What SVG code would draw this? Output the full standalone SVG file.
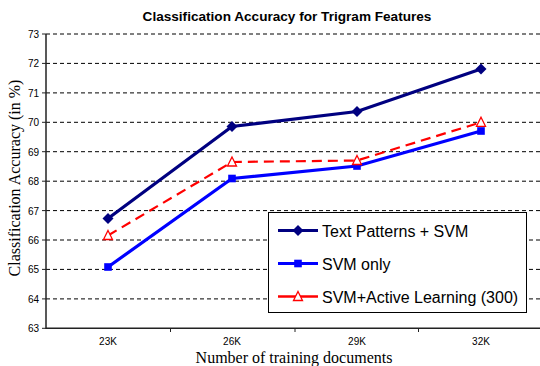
<svg xmlns="http://www.w3.org/2000/svg" width="540" height="366" viewBox="0 0 540 366">
<style>
.grid{stroke:#000;stroke-width:1;stroke-dasharray:4,3;fill:none}
.tick{font-family:"Liberation Sans",Arial,sans-serif;font-size:10px;fill:#000}
.title{font-family:"Liberation Sans",Arial,sans-serif;font-size:13.6px;font-weight:bold;fill:#000}
.axlab{font-family:"Liberation Serif","Times New Roman",serif;font-size:16px;fill:#000}
.leg{font-family:"Liberation Sans",Arial,sans-serif;font-size:16px;fill:#000}
.s1{stroke:#000080;stroke-width:3.2;fill:none}
.s2{stroke:#0000ff;stroke-width:3.2;fill:none}
.s3{stroke:#ff0000;stroke-width:2.2;stroke-dasharray:10,6;fill:none}
</style>
<defs>
<path id="dia" d="M0,-5.5 L5.5,0 L0,5.5 L-5.5,0 Z" fill="#000080"/>
<rect id="sq" x="-3.8" y="-3.8" width="7.6" height="7.6" fill="#0000ff"/>
<path id="tri" d="M0,-5 L4.5,4 L-4.5,4 Z" fill="#fff" stroke="#ff0000" stroke-width="1.3"/>
</defs>
<rect width="540" height="366" fill="#fff"/>
<text class="title" x="287" y="21" text-anchor="middle">Classification Accuracy for Trigram Features</text>
<g id="grid">
<line class="grid" x1="46" y1="34" x2="540" y2="34"/>
<line class="grid" x1="46" y1="63.4" x2="540" y2="63.4"/>
<line class="grid" x1="46" y1="92.9" x2="540" y2="92.9"/>
<line class="grid" x1="46" y1="122.3" x2="540" y2="122.3"/>
<line class="grid" x1="46" y1="151.7" x2="540" y2="151.7"/>
<line class="grid" x1="46" y1="181.2" x2="540" y2="181.2"/>
<line class="grid" x1="46" y1="210.6" x2="540" y2="210.6"/>
<line class="grid" x1="46" y1="240" x2="540" y2="240"/>
<line class="grid" x1="46" y1="269.4" x2="540" y2="269.4"/>
<line class="grid" x1="46" y1="298.9" x2="540" y2="298.9"/>
</g>
<g id="axes" stroke="#222" fill="none">
<line x1="46" y1="34" x2="46" y2="329" stroke-width="1.5"/>
<line x1="46" y1="328.3" x2="540" y2="328.3" stroke-width="1.5"/>
<path d="M42,34H46M42,63.4H46M42,92.9H46M42,122.3H46M42,151.7H46M42,181.2H46M42,210.6H46M42,240H46M42,269.4H46M42,298.9H46M42,328.3H46" stroke-width="1"/>
<path d="M170.5,328V332M295,328V332M418.5,328V332" stroke-width="1"/>
</g>
<g id="ylabels" class="tick" text-anchor="end">
<text x="39" y="37.5">73</text><text x="39" y="67">72</text><text x="39" y="96.5">71</text><text x="39" y="126">70</text><text x="39" y="155.5">69</text><text x="39" y="185">68</text><text x="39" y="214.5">67</text><text x="39" y="243.5">66</text><text x="39" y="273">65</text><text x="39" y="302.5">64</text><text x="39" y="332">63</text>
</g>
<g id="xlabels" class="tick" text-anchor="middle">
<text x="108" y="345">23K</text><text x="232" y="345">26K</text><text x="357" y="345">29K</text><text x="481" y="345">32K</text>
</g>
<text class="axlab" x="294" y="363" text-anchor="middle">Number of training documents</text>
<text class="axlab" transform="translate(20,178) rotate(-90)" text-anchor="middle">Classification Accuracy (in %)</text>
<g id="connectors">
<polyline class="s3" points="108,235.5 232,162 357,160.5 481,122.3"/>
<polyline class="s2" points="108,267 232,178.5 357,166 481,131"/>
<polyline class="s1" points="108,218.5 232,126.5 357,111.5 481,69"/>
</g>
<g id="series-text-patterns">
<use href="#dia" x="108" y="218.5"/><use href="#dia" x="232" y="126.5"/><use href="#dia" x="357" y="111.5"/><use href="#dia" x="481" y="69"/>
</g>
<g id="series-svm-only">
<use href="#sq" x="108" y="267"/><use href="#sq" x="232" y="178.5"/><use href="#sq" x="357" y="166"/><use href="#sq" x="481" y="131"/>
</g>
<g id="series-active">
<use href="#tri" x="108" y="235.5"/><use href="#tri" x="232" y="162"/><use href="#tri" x="357" y="160.5"/><use href="#tri" x="481" y="122.3"/>
</g>
<g id="legend">
<rect x="268.5" y="212.5" width="258" height="100" fill="#fff" stroke="#000" stroke-width="1"/>
<line x1="278" y1="230.5" x2="318" y2="230.5" stroke="#000080" stroke-width="3"/>
<use href="#dia" x="298" y="230.5"/>
<text class="leg" x="322" y="236.5">Text Patterns + SVM</text>
<line x1="278" y1="263.5" x2="318" y2="263.5" stroke="#0000ff" stroke-width="3"/>
<use href="#sq" x="298" y="263.5"/>
<text class="leg" x="322" y="269.5">SVM only</text>
<line x1="278" y1="296.5" x2="318" y2="296.5" stroke="#ff0000" stroke-width="2.5"/>
<use href="#tri" x="298" y="296.5"/>
<text class="leg" x="322" y="302.5">SVM+Active Learning (300)</text>
</g>
</svg>
